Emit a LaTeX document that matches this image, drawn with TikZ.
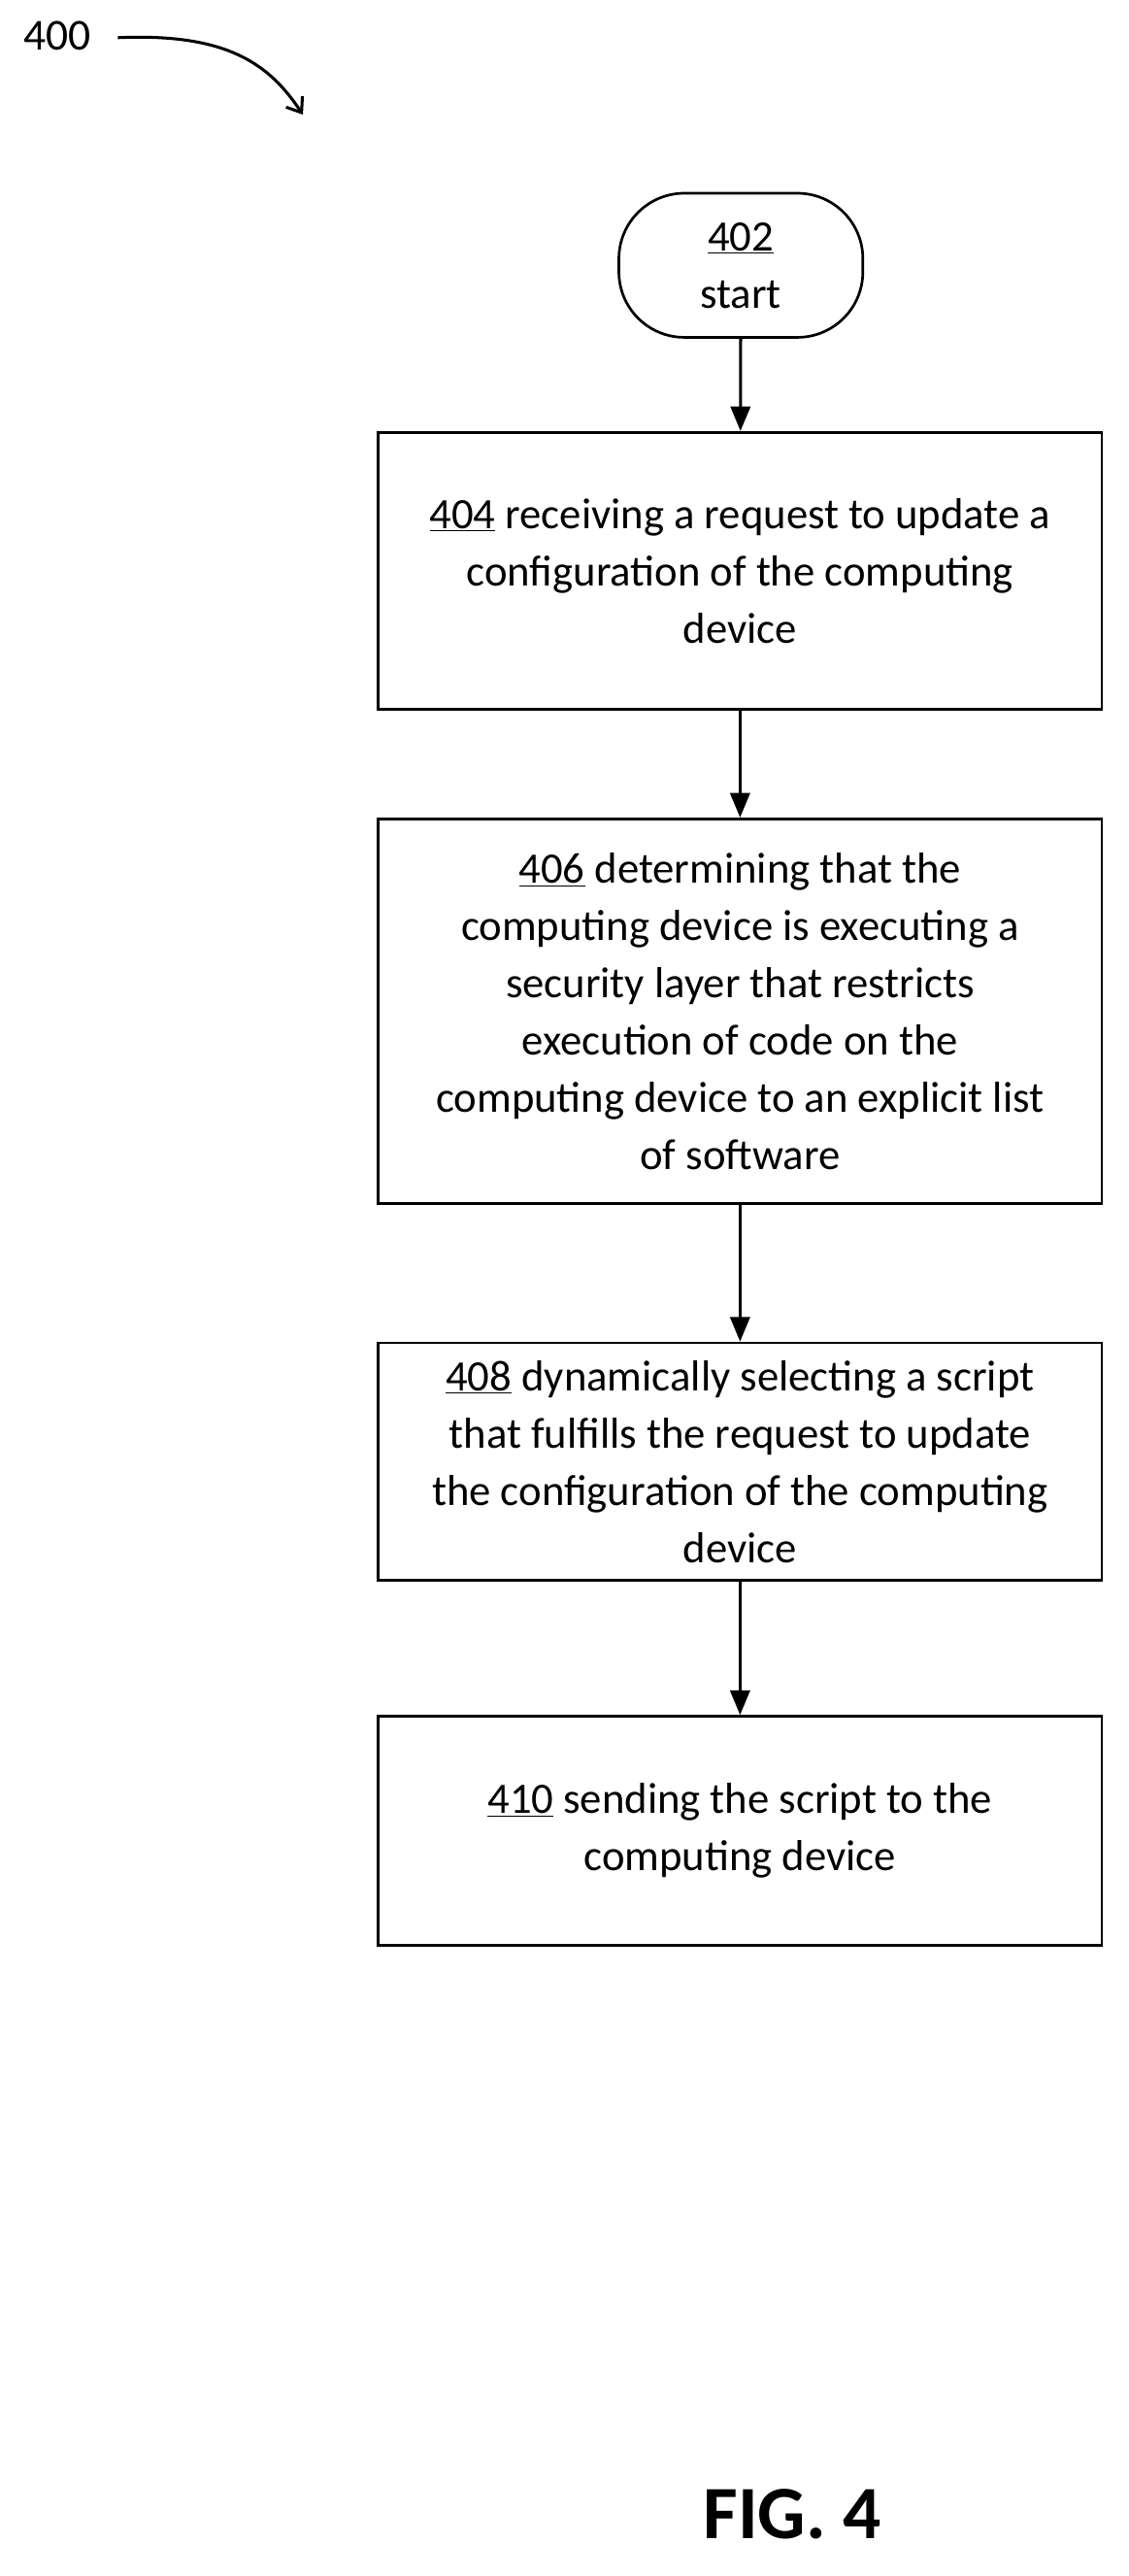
\documentclass[tikz,border=0pt]{standalone}
\usepackage{fontspec}
\setmainfont{Carlito}
\usetikzlibrary{arrows.meta}
\begin{document}
\begin{tikzpicture}[x=1pt,y=-1pt,
  box/.style={draw,line width=1.6pt,minimum width=442pt,align=center,font=\fontsize{26.5}{35}\selectfont,inner sep=0pt},
  arr/.style={line width=1.8pt,-{Triangle[length=15pt,width=12pt]}}]
\useasboundingbox (0,0) rectangle (689,1573);
\node[font=\fontsize{27}{30}\selectfont] (n400) at (35,22) {400};
\coordinate (c400) at (185,70);
\draw[line width=1.8pt,-{Straight Barb[length=8pt,width=12pt]}] (72,23) .. controls (140,20) and (165,40) .. (c400);
\node[draw,line width=1.6pt,rounded corners=40pt,minimum width=149pt,minimum height=88pt,align=center,font=\fontsize{26.5}{35}\selectfont] (s) at (452.5,162) {\underline{402}\\start};
\node[box,minimum height=169pt] (b404) at (452,348.5) {\underline{404} receiving a request to update a\\configuration of the computing\\device};
\node[box,minimum height=235pt] (b406) at (452,617.5) {\underline{406} determining that the\\computing device is executing a\\security layer that restricts\\execution of code on the\\computing device to an explicit list\\of software};
\node[box,minimum height=145pt] (b408) at (452,892.5) {\underline{408} dynamically selecting a script\\that fulfills the request to update\\the configuration of the computing\\device};
\node[box,minimum height=140pt] (b410) at (452,1118) {\underline{410} sending the script to the\\computing device};
\draw[arr] (s) -- (b404);
\draw[arr] (b404) -- (b406);
\draw[arr] (b406) -- (b408);
\draw[arr] (b408) -- (b410);
\node[font=\fontsize{46}{50}\selectfont\bfseries] (fig) at (484,1535) {FIG. 4};
\end{tikzpicture}
\end{document}
